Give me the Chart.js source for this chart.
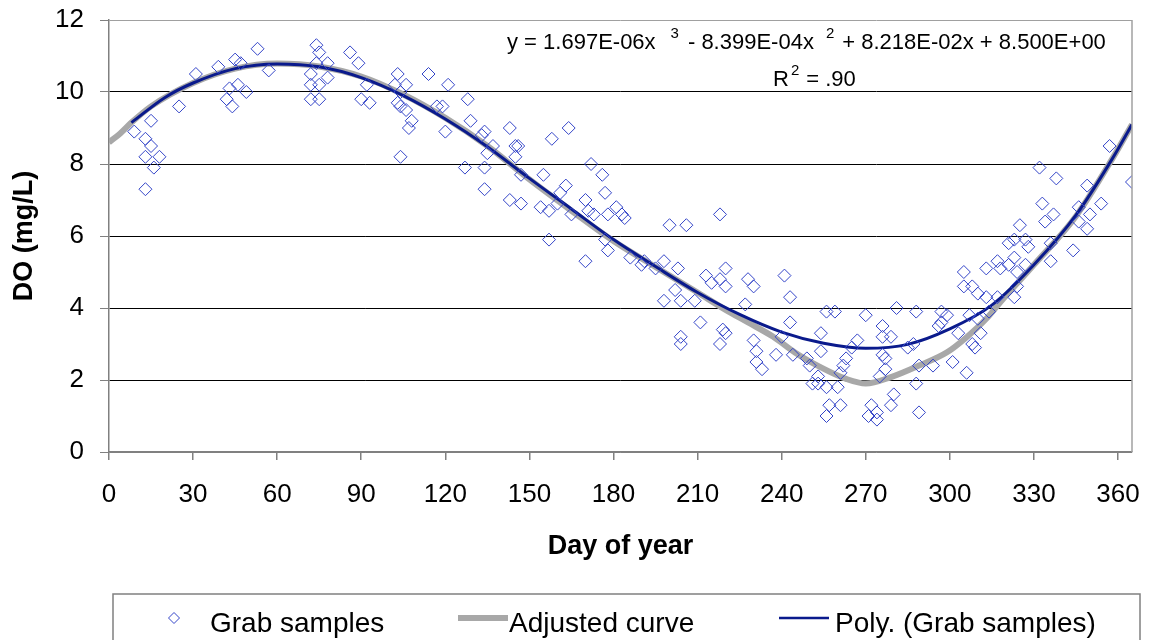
<!DOCTYPE html>
<html>
<head>
<meta charset="utf-8">
<title>DO vs day of year</title>
<script src="https://cdn.jsdelivr.net/npm/chart.js@4.4.1/dist/chart.umd.min.js"></script>
<style>
  html, body { margin: 0; padding: 0; background: #fff; }
  #myChart { display: block; }
</style>
</head>
<body>
<canvas id="myChart" width="1150" height="640"></canvas>
<script>
// grab samples (day of year, DO mg/L)
const grabDays = [
  9, 13, 15, 15, 13, 18, 16, 13, 25, 31, 39, 42, 44, 43, 45, 47, 46, 49, 53, 57,
  72, 72, 74, 75, 74, 78, 78, 75, 75, 72, 86, 89, 90, 93, 92, 103, 102, 106, 104, 103,
  104, 106, 108, 107, 104, 114, 121, 117, 119, 120, 128, 129, 127, 134, 134, 134, 133, 137, 135, 143,
  164, 158, 145, 146, 145, 172, 176, 155, 147, 177, 163, 161, 170, 143, 147, 154, 157, 160, 165, 171,
  173, 178, 181, 183, 184, 200, 206, 218, 157, 177, 178, 170, 186, 190, 191, 198, 195, 203, 213, 220,
  202, 198, 204, 209, 215, 218, 220, 228, 230, 241, 243, 227, 211, 204, 204, 219, 220, 218, 230, 231,
  231, 233, 238, 240, 243, 244, 249, 250, 254, 254, 256, 259, 270, 267, 265, 263, 262, 261, 253, 253,
  251, 256, 260, 257, 261, 256, 272, 271, 274, 274, 275, 276, 276, 276, 279, 277, 277, 280, 279, 281,
  288, 285, 287, 288, 289, 289, 294, 301, 306, 297, 297, 299, 296, 303, 308, 309, 311, 307, 310, 314,
  305, 305, 308, 310, 313, 313, 317, 318, 321, 324, 324, 323, 317, 323, 321, 323, 327, 328, 327, 336,
  336, 344, 357, 365, 332, 338, 349, 354, 333, 337, 334, 346, 350, 346, 349, 325
];
const grabDO = [
  8.9, 8.7, 9.2, 8.5, 8.2, 8.2, 7.9, 7.3, 9.6, 10.5, 10.7, 9.8, 9.6, 10.1, 10.9, 10.8, 10.2, 10.0, 11.2, 10.6,
  10.2, 9.8, 11.3, 11.1, 10.8, 10.8, 10.4, 10.2, 9.8, 10.5, 11.1, 10.8, 9.8, 9.7, 10.2, 10.5, 10.2, 10.2, 10.0, 9.7,
  9.6, 9.5, 9.2, 9.0, 8.2, 10.5, 10.2, 9.6, 9.6, 8.9, 9.8, 9.2, 7.9, 7.9, 7.3, 8.9, 8.8, 8.5, 8.3, 9.0,
  9.0, 8.7, 8.5, 8.5, 8.2, 8.0, 7.7, 7.7, 7.7, 7.2, 7.4, 7.2, 7.0, 7.0, 6.9, 6.8, 6.7, 6.9, 6.6, 6.7,
  6.6, 6.6, 6.8, 6.6, 6.5, 6.3, 6.3, 6.6, 5.9, 5.9, 5.6, 5.3, 5.4, 5.2, 5.3, 5.3, 5.1, 5.1, 4.9, 5.1,
  4.5, 4.2, 4.2, 4.2, 4.7, 4.8, 4.6, 4.8, 4.6, 4.9, 4.3, 4.1, 3.6, 3.2, 3.0, 3.4, 3.3, 3.0, 3.1, 2.8,
  2.5, 2.3, 2.7, 3.2, 3.6, 2.7, 2.6, 2.4, 3.3, 2.8, 3.9, 3.9, 3.8, 3.1, 2.9, 2.6, 2.4, 2.2, 2.1, 1.9,
  1.9, 1.8, 1.8, 1.3, 1.3, 1.0, 1.3, 1.0, 1.1, 0.9, 2.1, 2.7, 3.5, 3.2, 3.2, 2.6, 2.3, 1.6, 1.3, 4.0,
  3.9, 2.9, 3.0, 1.9, 1.1, 2.4, 2.4, 2.5, 2.2, 3.9, 3.6, 3.8, 3.5, 3.3, 3.0, 2.9, 3.3, 3.8, 3.7, 3.9,
  5.0, 4.6, 4.6, 4.4, 4.3, 5.1, 5.3, 5.1, 5.2, 5.0, 4.6, 4.3, 4.3, 5.4, 5.8, 5.9, 5.9, 5.7, 5.2, 5.8,
  5.3, 5.6, 8.5, 7.5, 7.9, 7.6, 7.4, 6.9, 6.9, 6.6, 6.4, 6.8, 6.6, 6.4, 6.2, 6.3
];

// adjusted curve
const adjDays = [0, 4, 8, 15, 30, 45, 60, 75, 90, 105, 120, 135, 150, 165, 180, 195, 210, 220, 228, 237,
  245, 254, 263, 270, 279, 289, 299, 306, 313, 318, 330, 345, 358, 365];
const adjDO = [8.6, 8.85, 9.15, 9.6, 10.25, 10.65, 10.79, 10.71, 10.43, 9.93, 9.28, 8.5, 7.57, 6.7, 5.86, 5.14, 4.43, 3.95, 3.6, 3.2,
  2.75, 2.35, 2.03, 1.9, 2.08, 2.4, 2.77, 3.19, 3.7, 4.16, 5.2, 6.55, 8.15, 9.1];

// polynomial trendline
const polyDays = [8, 20, 30, 45, 60, 75, 90, 105, 120, 135, 150, 165, 180, 195, 210, 225, 240, 255, 270, 285,
  300, 315, 330, 345, 358, 365];
const polyDO = [9.15, 9.85, 10.25, 10.65, 10.78, 10.7, 10.4, 9.9, 9.25, 8.48, 7.6, 6.75, 5.9, 5.15, 4.43, 3.82, 3.33, 3.02, 2.88, 2.99,
  3.42, 4.08, 5.2, 6.58, 8.15, 9.1];

const xTicks = [0, 30, 60, 90, 120, 150, 180, 210, 240, 270, 300, 330, 360];
const yTicks = [0, 2, 4, 6, 8, 10, 12];

const trendEq = ["y = 1.697E-06x", "3", "- 8.399E-04x", "2", "+ 8.218E-02x + 8.500E+00"];
const trendR2 = ["R", "2", "= .90"];

const fontFamily = "'Liberation Sans', Arial, sans-serif";
Chart.defaults.font.family = fontFamily;
Chart.defaults.color = "#000";

function toXY(xs, ys) {
  return xs.map((x, i) => ({ x: x, y: ys[i] }));
}

// grey frame on the right, trendline equation and the boxed legend
const extras = {
  id: "extras",
  afterDraw(chart) {
    const ctx = chart.ctx;
    const area = chart.chartArea;
    ctx.save();

    ctx.strokeStyle = "#a0a0a0";
    ctx.lineWidth = 1.5;
    ctx.beginPath();
    ctx.moveTo(area.right, area.top);
    ctx.lineTo(area.right, area.bottom);
    ctx.stroke();

    // equation
    ctx.fillStyle = "#000";
    ctx.textBaseline = "alphabetic";
    ctx.textAlign = "left";
    const big = "22px " + fontFamily;
    const small = "15px " + fontFamily;
    let x = 507;
    ctx.font = big;
    ctx.fillText(trendEq[0], x, 49);
    x += ctx.measureText(trendEq[0]).width + 15;
    ctx.font = small;
    ctx.fillText(trendEq[1], x, 38);
    x += ctx.measureText(trendEq[1]).width + 9;
    ctx.font = big;
    ctx.fillText(trendEq[2], x, 49);
    x += ctx.measureText(trendEq[2]).width + 12;
    ctx.font = small;
    ctx.fillText(trendEq[3], x, 38);
    x += ctx.measureText(trendEq[3]).width + 8;
    ctx.font = big;
    ctx.fillText(trendEq[4], x, 49);

    x = 773;
    ctx.fillText(trendR2[0], x, 86);
    x += ctx.measureText(trendR2[0]).width + 2;
    ctx.font = small;
    ctx.fillText(trendR2[1], x, 75);
    x += ctx.measureText(trendR2[1]).width + 7;
    ctx.font = big;
    ctx.fillText(trendR2[2], x, 86);

    // legend
    const ds = chart.data.datasets;
    ctx.strokeStyle = "#808080";
    ctx.lineWidth = 1.5;
    ctx.strokeRect(113, 594, 1027, 80);

    ctx.font = "28px " + fontFamily;
    const ly = 618;
    // diamond
    ctx.strokeStyle = ds[0].borderColor;
    ctx.lineWidth = 1;
    ctx.beginPath();
    ctx.moveTo(174, ly - 5.5);
    ctx.lineTo(179.5, ly);
    ctx.lineTo(174, ly + 5.5);
    ctx.lineTo(168.5, ly);
    ctx.closePath();
    ctx.stroke();
    ctx.fillText(ds[0].label, 210, 632);

    ctx.strokeStyle = ds[2].borderColor;
    ctx.lineWidth = ds[2].borderWidth;
    ctx.beginPath();
    ctx.moveTo(458, ly);
    ctx.lineTo(508, ly);
    ctx.stroke();
    ctx.fillText(ds[2].label, 509, 632);

    ctx.strokeStyle = ds[1].borderColor;
    ctx.lineWidth = 2.5;
    ctx.beginPath();
    ctx.moveTo(779, ly);
    ctx.lineTo(829, ly);
    ctx.stroke();
    ctx.fillText(ds[1].label, 835, 632);

    ctx.restore();
  }
};

const myChart = document.getElementById("myChart");

new Chart(myChart, {
  type: "scatter",
  data: {
    datasets: [
      {
        label: "Grab samples",
        data: toXY(grabDays, grabDO),
        pointStyle: "rectRot",
        pointRadius: 6.5,
        borderColor: "#3344c8",
        backgroundColor: "rgba(0,0,0,0)",
        borderWidth: 1,
        order: 0
      },
      {
        type: "line",
        label: "Poly. (Grab samples)",
        data: toXY(polyDays, polyDO),
        borderColor: "#0a1a8c",
        borderWidth: 3,
        pointRadius: 0,
        fill: false,
        cubicInterpolationMode: "monotone",
        order: 1
      },
      {
        type: "line",
        label: "Adjusted curve",
        data: toXY(adjDays, adjDO),
        borderColor: "#a8a8a8",
        borderWidth: 6,
        pointRadius: 0,
        fill: false,
        cubicInterpolationMode: "monotone",
        order: 2
      }
    ]
  },
  options: {
    responsive: false,
    animation: false,
    devicePixelRatio: 1,
    layout: { padding: { top: 20, right: 18, bottom: 55, left: 0 } },
    plugins: {
      legend: { display: false },
      tooltip: { enabled: false }
    },
    scales: {
      x: {
        type: "linear",
        min: 0,
        max: 365,
        afterBuildTicks: (scale) => { scale.ticks = xTicks.map((v) => ({ value: v })); },
        afterFit: (scale) => {
          scale.height = 133;
          scale.paddingLeft = 0;
          scale.paddingRight = 0;
        },
        ticks: { font: { size: 26 }, padding: 19, color: "#000", maxRotation: 0, autoSkip: false },
        grid: { drawOnChartArea: false, color: "#808080", lineWidth: 1.5, tickLength: 8 },
        border: { color: "#808080", width: 1.5 },
        title: {
          display: true,
          text: "Day of year",
          color: "#000",
          font: { size: 27, weight: "bold" },
          padding: { top: 0, bottom: 22 }
        }
      },
      y: {
        min: 0,
        max: 12,
        afterBuildTicks: (scale) => { scale.ticks = yTicks.map((v) => ({ value: v })); },
        afterFit: (scale) => {
          scale.width = 109;
          scale.paddingTop = 0;
          scale.paddingBottom = 0;
        },
        ticks: { font: { size: 26 }, padding: 16, color: "#000" },
        grid: {
          color: (c) => (c.tick && c.tick.value === 12 ? "#a0a0a0" : c.tick && c.tick.value === 0 ? "#808080" : "#000"),
          tickColor: "#808080",
          lineWidth: 1,
          tickLength: 9
        },
        border: { color: "#808080", width: 1.5 },
        title: {
          display: true,
          text: "DO (mg/L)",
          color: "#000",
          font: { size: 27, weight: "bold" },
          padding: { top: 8, bottom: 0 }
        }
      }
    }
  },
  plugins: [extras]
});
</script>
</body>
</html>
